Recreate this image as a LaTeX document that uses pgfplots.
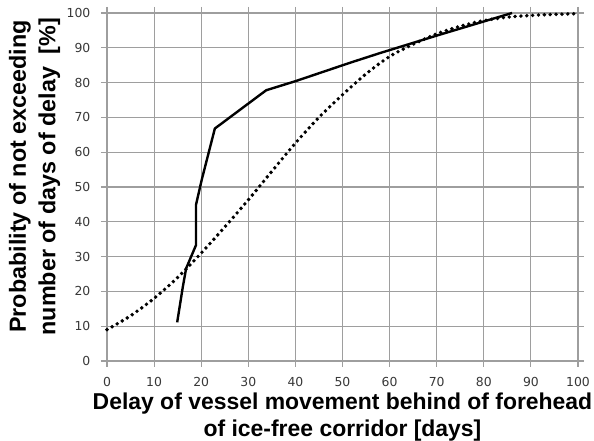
\documentclass[border=0pt]{standalone}
\usepackage{pgfplots}
\pgfplotsset{compat=1.18}
\usepackage{fontspec}
\setmainfont{Liberation Sans}
\newfontfamily\tickfont{DejaVu Sans}
\begin{document}
\begin{tikzpicture}
\path[use as bounding box] (-80.25pt,-60pt) rectangle (365.25pt,270.75pt);
\begin{axis}[
  name=ax,
  scale only axis,
  width=353.25pt, height=261pt,
  xmin=0, xmax=100, ymin=0, ymax=100,
  xtick={0,10,...,100}, ytick={0,10,...,100},
  grid=major,
  grid style={draw=black!38, line width=0.8pt},
  axis line style={draw=black!38, line width=0.8pt},
  tick style={draw=black!38, line width=0.8pt},
  tick align=outside,
  major tick length=4.5pt,
  tick label style={font=\tickfont\fontsize{9.3}{10}\selectfont, text=black!78},
  /pgf/number format/assume math mode=true,
  xticklabel style={yshift=-4.5pt},
  yticklabel style={xshift=-4.5pt},
  xlabel={Delay of vessel movement behind of forehead\\of ice-free corridor [days]},
  xlabel style={font=\fontsize{17.2}{20}\selectfont\bfseries, align=center, yshift=2.5pt},
  ylabel={Probability of not exceeding\\number of days of delay\ \ [\%]},
  ylabel style={font=\fontsize{17.5}{22}\selectfont\bfseries, align=center, at={(ticklabel cs:0.53)}, yshift=-2pt},
  clip=false,
]
\addplot[black, line width=1.8pt, line join=round] coordinates {
 (14.9,11.1) (16.1,21.3) (16.8,26.6) (18.9,33.3) (18.9,44.9) (20.1,52) (22.9,66.8)
 (33.8,77.8) (40,80.4) (51.6,85.7) (58,88.5) (70,93.5) (86,100)
};
\addplot[black, line width=2.9pt, line cap=round, dash pattern=on 0pt off 4.4pt, smooth] coordinates {
 (0,9) (5,13) (10,18) (15,24) (20,31) (25,38.5) (30,46.3) (35,54.5) (40,62.6)
 (45,70) (50,76.5) (55,82.5) (60,87.5) (65,91) (70,94) (75,96.2) (80,97.8)
 (85,98.8) (90,99.3) (95,99.6) (100,99.8)
};
\end{axis}
\end{tikzpicture}
\end{document}
